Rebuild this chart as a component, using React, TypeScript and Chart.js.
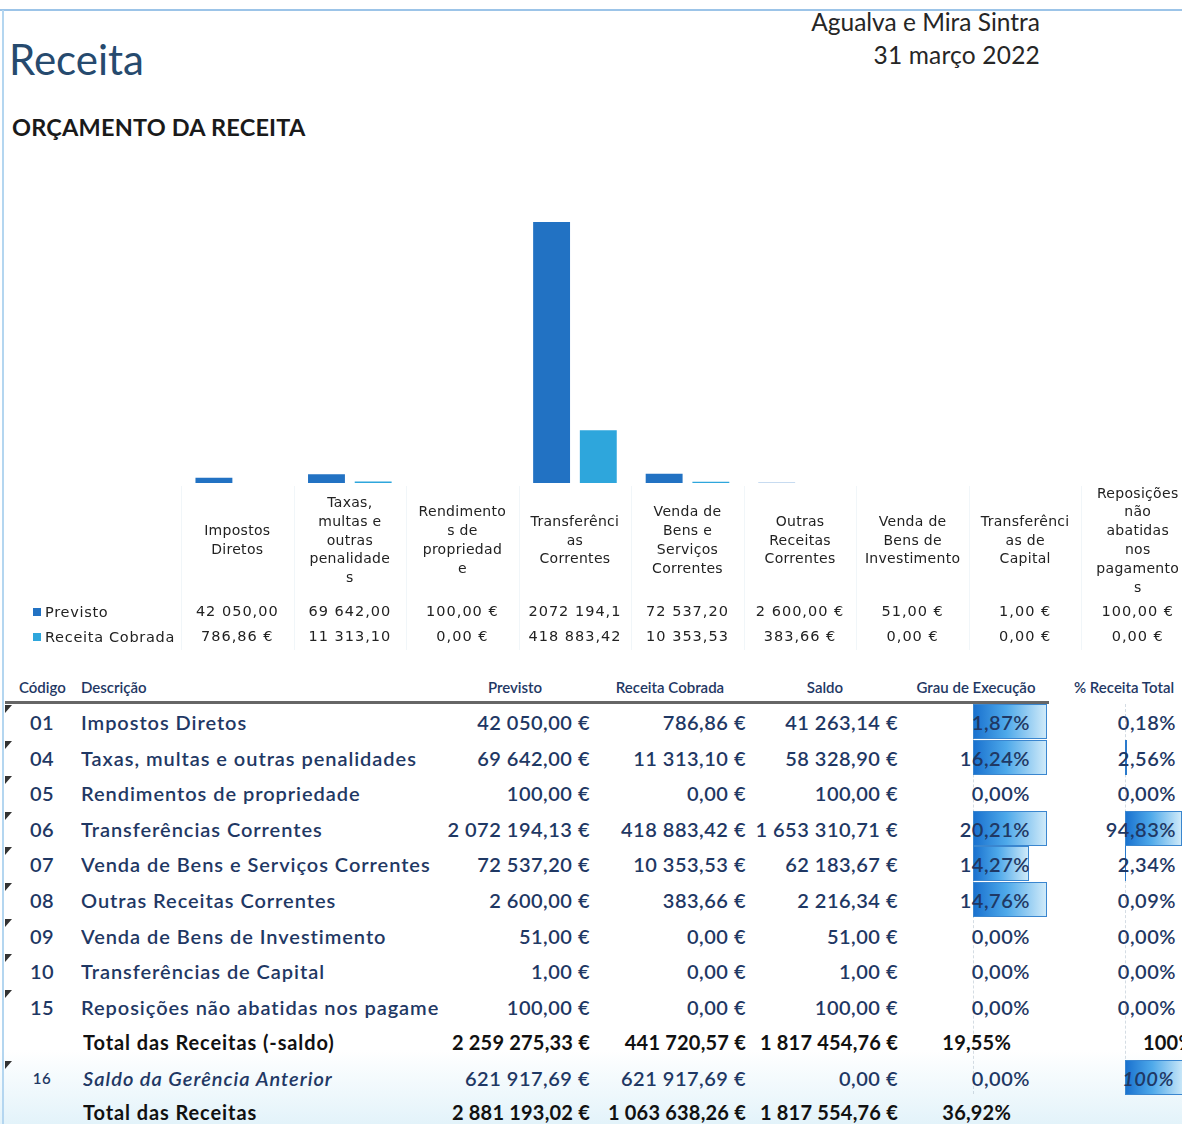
import React, { useEffect, useRef } from "react";
import { Chart, registerables } from "chart.js";

Chart.register(...registerables);

// ---------- chart data ----------
const categoryLines: string[][] = [
  ["Impostos", "Diretos"],
  ["Taxas,", "multas e", "outras", "penalidade", "s"],
  ["Rendimento", "s de", "propriedad", "e"],
  ["Transferênci", "as", "Correntes"],
  ["Venda de", "Bens e", "Serviços", "Correntes"],
  ["Outras", "Receitas", "Correntes"],
  ["Venda de", "Bens de", "Investimento"],
  ["Transferênci", "as de", "Capital"],
  ["Reposições", "não", "abatidas", "nos", "pagamento", "s"],
];
const seriesNames = ["Previsto", "Receita Cobrada"];
const previsto = [42050, 69642, 100, 2072194.13, 72537.2, 2600, 51, 1, 100];
const cobrada = [786.86, 11313.1, 0, 418883.42, 10353.53, 383.66, 0, 0, 0];
const previstoCellText = ["42 050,00", "69 642,00", "100,00 €", "2072 194,1", "72 537,20", "2 600,00 €", "51,00 €", "1,00 €", "100,00 €"];
const cobradaCellText = ["786,86 €", "11 313,10", "0,00 €", "418 883,42", "10 353,53", "383,66 €", "0,00 €", "0,00 €", "0,00 €"];
const yMax = 2500000;
const colors = ["#2272c3", "#2ea6dc"];

// ---------- table data ----------
const rowCodes = ["01", "04", "05", "06", "07", "08", "09", "10", "15"];
const rowDesc = [
  "Impostos Diretos",
  "Taxas, multas e outras penalidades",
  "Rendimentos de propriedade",
  "Transferências Correntes",
  "Venda de Bens e Serviços Correntes",
  "Outras Receitas Correntes",
  "Venda de Bens de Investimento",
  "Transferências de Capital",
  "Reposições não abatidas nos pagamentos",
];
const grauBarFill = [1, 1, 0, 1, 0.75, 1, 0, 0, 0];
const totalMinusSaldo = { previsto: 2259275.33, cobrada: 441720.57, saldo: 1817454.76, grau: 0.1955 };
const saldoGerencia = { previsto: 621917.69, cobrada: 621917.69, saldo: 0, grau: 0, pctTotal: 1 };
const totalReceitas = { previsto: 2881193.02, cobrada: 1063638.26, saldo: 1817554.76, grau: 0.3692 };

function eur(n: number): string {
  const [i, d] = n.toFixed(2).split(".");
  return i.replace(/\B(?=(\d{3})+(?!\d))/g, " ") + "," + d + " €";
}
function pct(n: number): string {
  return (n * 100).toFixed(2).replace(".", ",") + "%";
}

const CANVAS_TOP = 150;

const tablePlugin = {
  id: "dataTable",
  afterDraw(chart: any) {
    const ctx = chart.ctx as CanvasRenderingContext2D;
    const x = chart.scales.x;
    const n = categoryLines.length;
    const half = (x.getPixelForValue(1) - x.getPixelForValue(0)) / 2;
    ctx.save();
    // faint cell borders
    ctx.strokeStyle = "rgba(215,228,238,0.35)";
    ctx.lineWidth = 1;
    for (let i = 0; i <= n; i++) {
      const px = i < n ? x.getPixelForValue(i) - half : x.getPixelForValue(n - 1) + half;
      ctx.beginPath();
      ctx.moveTo(Math.round(px) + 0.5, 336);
      ctx.lineTo(Math.round(px) + 0.5, 500);
      ctx.stroke();
    }
    // category labels
    ctx.fillStyle = "#222";
    ctx.textAlign = "center";
    ctx.textBaseline = "middle";
    ctx.font = '14px "DejaVu Sans"';
    (ctx as any).letterSpacing = "0.3px";
    const lh = 18.8;
    categoryLines.forEach((lines, i) => {
      const cx = x.getPixelForValue(i);
      const start = 391 - ((lines.length - 1) * lh) / 2;
      lines.forEach((l, j) => ctx.fillText(l, cx, start + j * lh));
    });
    // values
    ctx.font = '14.5px "DejaVu Sans"';
    (ctx as any).letterSpacing = "1px";
    const rowsY = [462, 487];
    [previstoCellText, cobradaCellText].forEach((arr, r) => {
      arr.forEach((t, i) => ctx.fillText(t, x.getPixelForValue(i), rowsY[r]));
    });
    // legend keys
    ctx.textAlign = "left";
    (ctx as any).letterSpacing = "0.7px";
    seriesNames.forEach((name, r) => {
      ctx.fillStyle = colors[r];
      ctx.fillRect(33, rowsY[r] - 4, 8, 8);
      ctx.fillStyle = "#222";
      ctx.fillText(name, 45, rowsY[r] + 1);
    });
    ctx.restore();
  },
};

function BarChart() {
  const ref = useRef<HTMLCanvasElement>(null);
  useEffect(() => {
    if (!ref.current) return;
    const chart = new Chart(ref.current, {
      type: "bar",
      data: {
        labels: categoryLines.map((l) => l.join(" ")),
        datasets: [
          { label: seriesNames[0], data: previsto, backgroundColor: colors[0], barPercentage: 0.79, categoryPercentage: 0.83 },
          { label: seriesNames[1], data: cobrada, backgroundColor: colors[1], barPercentage: 0.79, categoryPercentage: 0.83 },
        ],
      },
      options: {
        responsive: false,
        animation: false,
        devicePixelRatio: 1,
        layout: { padding: { left: 181, right: 6, top: 18, bottom: 177 } },
        plugins: { legend: { display: false }, tooltip: { enabled: false } },
        scales: {
          x: { display: false, grid: { display: false } },
          y: { display: false, min: 0, max: yMax, grid: { display: false } },
        },
      },
      plugins: [tablePlugin],
    });
    return () => chart.destroy();
  }, []);
  return (
    <canvas
      ref={ref}
      width={1200}
      height={510}
      style={{ position: "absolute", left: 0, top: CANVAS_TOP, width: 1200, height: 510 }}
    />
  );
}

const NAVY = "#1f3864";
const ROW_Y0 = 722;
const ROW_H = 35.6;

function Cell({ left, right, width, children, style }: any) {
  const s: React.CSSProperties = { position: "absolute", top: 0, height: 36, lineHeight: "36px", whiteSpace: "nowrap", overflow: "hidden", ...style };
  if (left !== undefined) s.left = left;
  if (right !== undefined) s.left = right - width;
  if (width !== undefined) s.width = width;
  if (right !== undefined) s.textAlign = "right";
  return <div style={s}>{children}</div>;
}

function Triangle({ y }: { y: number }) {
  return (
    <div
      style={{
        position: "absolute",
        left: 5,
        top: y - 17,
        width: 0,
        height: 0,
        borderTop: "8px solid #333",
        borderRight: "7px solid transparent",
      }}
    />
  );
}

function DataBar({ left, y, width }: { left: number; y: number; width: number }) {
  if (width < 0.5) return null;
  return (
    <div
      style={{
        position: "absolute",
        left,
        top: y - 18,
        width,
        height: 35,
        boxSizing: "border-box",
        border: width > 4 ? "1.5px solid #3a86cf" : "none",
        background: width > 4 ? "linear-gradient(to right, #1a72cf 0%, #4ea9ea 45%, #cfeaf9 100%)" : "#2a7acc",
      }}
    />
  );
}

export default function App() {
  useEffect(() => {
    document.body.style.margin = "0";
    document.body.style.overflow = "hidden";
  }, []);

  const totalCobrada = totalMinusSaldo.cobrada;
  const bodyFont: React.CSSProperties = { fontFamily: "Lato", fontSize: 20, fontWeight: 600, letterSpacing: "0.5px", color: NAVY };
  const descFont: React.CSSProperties = { letterSpacing: "0.95px" };
  const boldFont: React.CSSProperties = { ...bodyFont, fontWeight: 700, color: "#111", letterSpacing: "0.2px" };

  const rows = rowCodes.map((code, i) => {
    const y = ROW_Y0 + i * ROW_H;
    const saldo = previsto[i] - cobrada[i];
    const grau = cobrada[i] / previsto[i];
    const share = cobrada[i] / totalCobrada;
    return (
      <React.Fragment key={code}>
        <Triangle y={y} />
        <DataBar left={973} y={y} width={74 * grauBarFill[i]} />
        <DataBar left={1125} y={y} width={60 * share} />
        <div style={{ position: "absolute", left: 0, top: y - 18, width: 1182, height: 36, ...bodyFont }}>
          <Cell left={22} width={40} style={{ textAlign: "center" }}>{code}</Cell>
          <Cell left={81} width={357} style={descFont}>{rowDesc[i]}</Cell>
          <Cell right={590} width={150}>{eur(previsto[i])}</Cell>
          <Cell right={746} width={150}>{eur(cobrada[i])}</Cell>
          <Cell right={898} width={150}>{eur(saldo)}</Cell>
          <Cell right={1030} width={100}>{pct(grau)}</Cell>
          <Cell right={1176} width={100}>{pct(share)}</Cell>
        </div>
      </React.Fragment>
    );
  });

  const yT1 = ROW_Y0 + 9 * ROW_H;
  const y16 = ROW_Y0 + 10 * ROW_H;
  const yT2 = ROW_Y0 + 11 * ROW_H - 2;

  const headerStyle: React.CSSProperties = { position: "absolute", top: 678, fontFamily: "Lato", fontSize: 15, fontWeight: 600, color: NAVY, whiteSpace: "nowrap" };

  return (
    <div style={{ position: "relative", width: 1182, height: 1124, overflow: "hidden", background: "#fff", fontFamily: "Lato" }}>
      {/* bottom tint */}
      <div style={{ position: "absolute", left: 0, top: 1050, width: 1182, height: 74, background: "linear-gradient(to bottom, rgba(255,255,255,0), #e3f3fa)" }} />
      {/* frame */}
      <div style={{ position: "absolute", left: 0, top: 9, width: 1182, height: 2, background: "#9cc4e8" }} />
      <div style={{ position: "absolute", left: 2, top: 10, width: 2, height: 1114, background: "#b4d6f0" }} />

      {/* titles */}
      <div style={{ position: "absolute", left: 9, top: 35, fontSize: 42, color: "#264a6e", lineHeight: "48px" }}>Receita</div>
      <div style={{ position: "absolute", right: 142, top: 7, fontSize: 24.5, color: "#262626", lineHeight: "30px", textAlign: "right" }}>
        Agualva e Mira Sintra
      </div>
      <div style={{ position: "absolute", right: 142, top: 40, fontSize: 24.5, color: "#262626", lineHeight: "30px", textAlign: "right", letterSpacing: "0.2px" }}>
        31 março 2022
      </div>
      <div style={{ position: "absolute", left: 12, top: 112, fontSize: 23.5, fontWeight: 700, color: "#1a1a1a", lineHeight: "30px", letterSpacing: "0.2px" }}>
        ORÇAMENTO DA RECEITA
      </div>

      <BarChart />

      {/* table header */}
      <div style={{ ...headerStyle, left: 19 }}>Código</div>
      <div style={{ ...headerStyle, left: 81 }}>Descrição</div>
      <div style={{ ...headerStyle, left: 465, width: 100, textAlign: "center" }}>Previsto</div>
      <div style={{ ...headerStyle, left: 600, width: 140, textAlign: "center" }}>Receita Cobrada</div>
      <div style={{ ...headerStyle, left: 775, width: 100, textAlign: "center" }}>Saldo</div>
      <div style={{ ...headerStyle, left: 906, width: 140, textAlign: "center" }}>Grau de Execução</div>
      <div style={{ ...headerStyle, left: 1064, width: 120, textAlign: "center" }}>% Receita Total</div>
      <div style={{ position: "absolute", left: 5, top: 701, width: 1044, height: 2.5, background: "#666" }} />

      {/* data bar axes */}
      <div style={{ position: "absolute", left: 973, top: 704, width: 0, height: 390, borderLeft: "1px dashed rgba(170,185,200,0.5)" }} />
      <div style={{ position: "absolute", left: 1125, top: 704, width: 0, height: 390, borderLeft: "1px dashed rgba(170,185,200,0.5)" }} />

      {rows}

      {/* Total (-saldo) */}
      <div style={{ position: "absolute", left: 0, top: yT1 - 18, width: 1182, height: 36, ...boldFont }}>
        <Cell left={83} width={357} style={{ letterSpacing: "0.9px" }}>Total das Receitas (-saldo)</Cell>
        <Cell right={590} width={150}>{eur(totalMinusSaldo.previsto)}</Cell>
        <Cell right={746} width={150}>{eur(totalMinusSaldo.cobrada)}</Cell>
        <Cell right={898} width={150}>{eur(totalMinusSaldo.saldo)}</Cell>
        <Cell right={1011} width={100}>{pct(totalMinusSaldo.grau)}</Cell>
        <Cell left={1143} width={60}>100%</Cell>
      </div>

      {/* Saldo da Gerência Anterior */}
      <Triangle y={y16} />
      <DataBar left={1125} y={y16} width={60 * saldoGerencia.pctTotal} />
      <div style={{ position: "absolute", left: 0, top: y16 - 18, width: 1182, height: 36, ...bodyFont }}>
        <Cell left={22} width={40} style={{ textAlign: "center", fontSize: 15 }}>16</Cell>
        <Cell left={83} width={357} style={{ fontStyle: "italic", letterSpacing: "1px" }}>Saldo da Gerência Anterior</Cell>
        <Cell right={590} width={150}>{eur(saldoGerencia.previsto)}</Cell>
        <Cell right={746} width={150}>{eur(saldoGerencia.cobrada)}</Cell>
        <Cell right={898} width={150}>{eur(saldoGerencia.saldo)}</Cell>
        <Cell right={1030} width={100}>{pct(saldoGerencia.grau)}</Cell>
        <Cell right={1174} width={100} style={{ fontStyle: "italic" }}>100%</Cell>
      </div>

      {/* Total das Receitas */}
      <div style={{ position: "absolute", left: 0, top: yT2 - 18, width: 1182, height: 36, ...boldFont }}>
        <Cell left={83} width={357} style={{ letterSpacing: "0.9px" }}>Total das Receitas</Cell>
        <Cell right={590} width={150}>{eur(totalReceitas.previsto)}</Cell>
        <Cell right={746} width={150}>{eur(totalReceitas.cobrada)}</Cell>
        <Cell right={898} width={150}>{eur(totalReceitas.saldo)}</Cell>
        <Cell right={1011} width={100}>{pct(totalReceitas.grau)}</Cell>
      </div>
    </div>
  );
}
